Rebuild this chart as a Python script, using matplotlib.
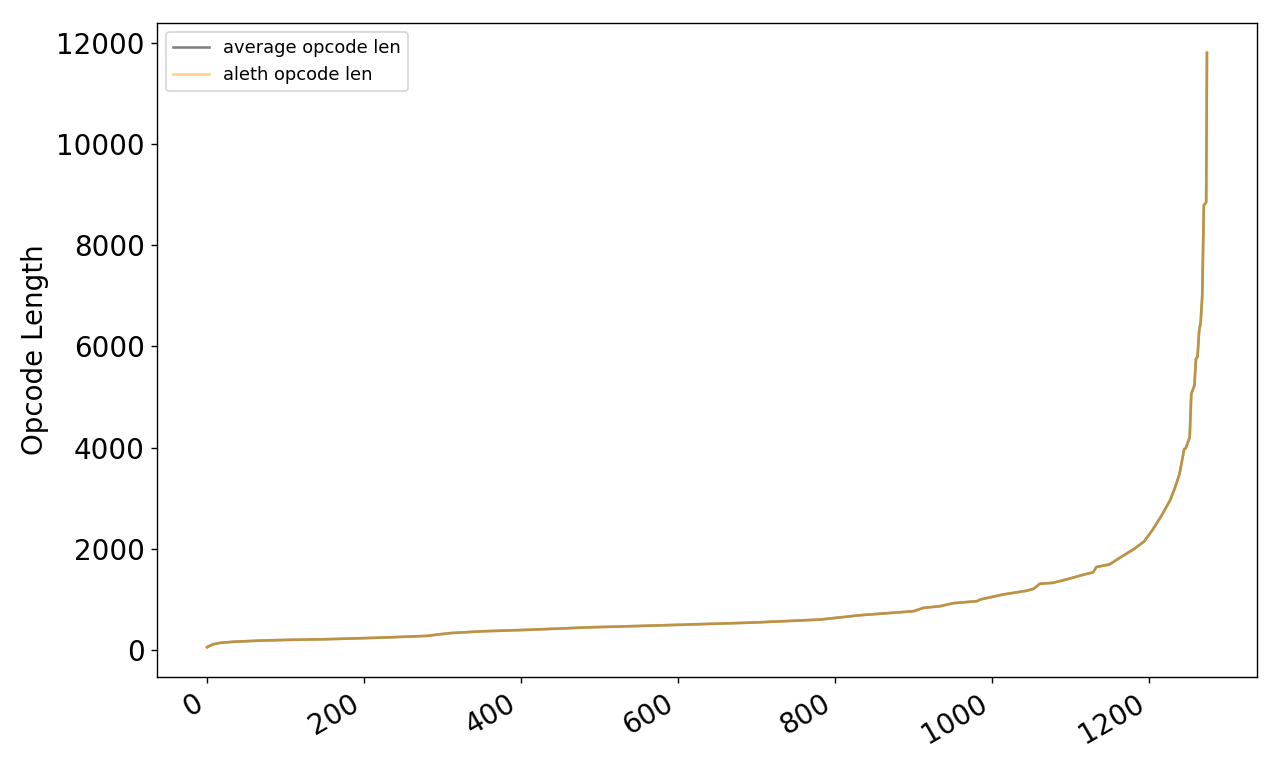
import matplotlib
matplotlib.use('Agg')
import matplotlib.pyplot as plt

# sorted opcode lengths at a subset of indices
idx = [0, 3, 8, 18, 35, 64, 100, 149, 200, 234, 280, 293, 310, 350, 404,
       450, 489, 527, 611, 696, 781, 832, 900, 913, 934, 951, 981, 985,
       1014, 1044, 1053, 1061, 1078, 1095, 1116, 1129, 1133, 1150, 1163,
       1181, 1194, 1205, 1216, 1227, 1233, 1239, 1245, 1247, 1252, 1254,
       1258, 1260, 1262, 1264, 1266, 1268, 1270, 1272, 1273, 1274]
avg_len = [60, 85, 120, 150, 170, 190, 205, 218, 240, 257, 285, 310, 340,
           375, 402, 430, 455, 470, 508, 548, 607, 693, 772, 838, 871, 931,
           970, 1003, 1102, 1175, 1214, 1314, 1333, 1399, 1490, 1540, 1644,
           1697, 1828, 2000, 2150, 2386, 2657, 2962, 3200, 3480, 3975, 3990,
           4205, 5063, 5228, 5756, 5800, 6300, 6482, 7010, 8792, 8825, 8850,
           11800]
aleth_len = list(avg_len)

fig, ax = plt.subplots(figsize=(10.24, 6.144), dpi=125)

ax.plot(idx, avg_len, color='gray', label='average opcode len')
ax.plot(idx, aleth_len, color='orange', alpha=0.5, label='aleth opcode len')

ax.set_ylabel('Opcode Length', fontsize=16)
ax.tick_params(labelsize=16)
ax.legend(loc='upper left', fontsize=10.3)

fig.autofmt_xdate()
plt.subplots_adjust(left=0.1227, right=0.982, top=0.970, bottom=0.1185)

plt.savefig('out.png')
